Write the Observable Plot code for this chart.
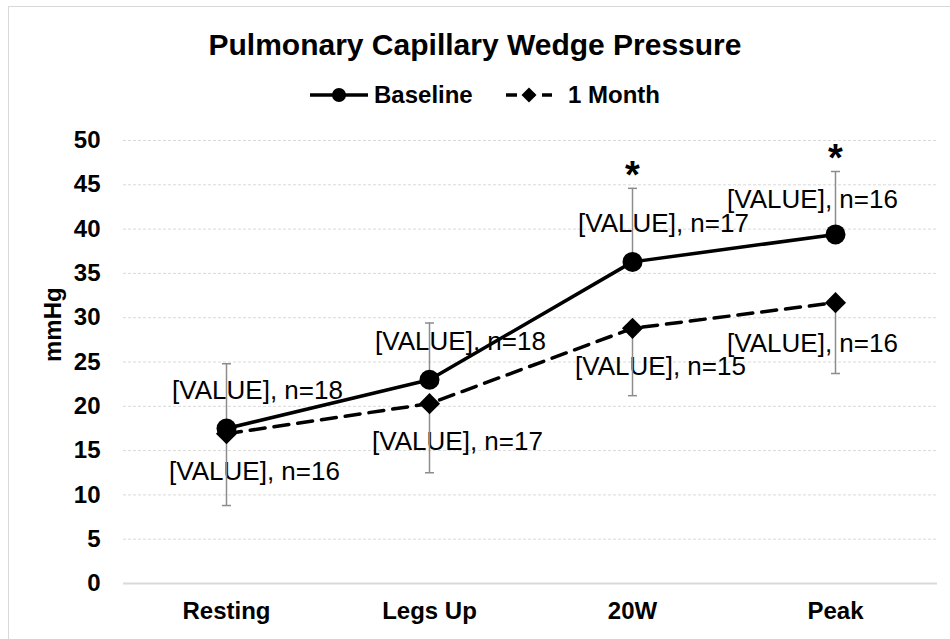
<!DOCTYPE html>
<html>
<head>
<meta charset="utf-8">
<script src="https://cdn.jsdelivr.net/npm/d3@7"></script>
<script src="https://cdn.jsdelivr.net/npm/@observablehq/plot@0.6"></script>
<style>
  html, body { margin: 0; padding: 0; background: #fff; overflow: hidden; }
  #wrap { position: relative; width: 950px; height: 639px; font-family: "Liberation Sans", Arial, sans-serif; color: #000; }
  #frame { position: absolute; left: 8px; top: 6px; width: 980px; height: 680px; border: 1.5px solid #d9d9d9; box-sizing: border-box; }
  #title { position: absolute; left: 0; width: 950px; top: 29px; text-align: center; font-size: 30px; font-weight: bold; line-height: 32px; }
  #legend { position: absolute; left: 0; top: 82px; height: 26px; width: 950px; }
  #legend .item { position: absolute; top: 0; display: flex; align-items: center; font-size: 24px; font-weight: bold; line-height: 26px; }
  #chart { position: absolute; left: 0; top: 115px; }
</style>
</head>
<body>
<div id="wrap">
  <div id="frame"></div>
  <div id="title"></div>
  <div id="legend"></div>
  <div id="chart"></div>
</div>
<script>
const title = "Pulmonary Capillary Wedge Pressure";
const yLabel = "mmHg";
const categories = ["Resting", "Legs Up", "20W", "Peak"];
const seriesNames = ["Baseline", "1 Month"];
const baseline = [17.5, 23.0, 36.3, 39.4];
const baselineUpper = [24.8, 29.4, 44.6, 46.5];
const baselineN = [18, 18, 17, 16];
const month1 = [16.9, 20.3, 28.8, 31.7];
const month1Lower = [8.8, 12.5, 21.2, 23.7];
const month1N = [16, 17, 15, 16];
const significance = ["", "", "*", "*"];
const yTicks = [0, 5, 10, 15, 20, 25, 30, 35, 40, 45, 50];

const B = categories.map((c, i) => ({cat: c, v: baseline[i], hi: baselineUpper[i], n: baselineN[i], sig: significance[i]}));
const M = categories.map((c, i) => ({cat: c, v: month1[i], lo: month1Lower[i], n: month1N[i]}));

document.getElementById("title").textContent = title;

// legend
const legend = document.getElementById("legend");
const legendSpecs = [
  {name: seriesNames[0], left: 310, dash: null, symbol: "circle"},
  {name: seriesNames[1], left: 506, dash: "11,7", symbol: "diamond"}
];
for (const s of legendSpecs) {
  const item = document.createElement("div");
  item.className = "item";
  item.style.left = s.left + "px";
  const w = s.symbol === "circle" ? 58 : 46;
  const sw = `<svg width="${w}" height="26" style="margin-right:${s.symbol === "circle" ? 6 : 16}px">` +
    (s.dash
      ? `<line x1="0" x2="${w}" y1="13" y2="13" stroke="#000" stroke-width="3.5" stroke-dasharray="${s.dash}"/>` +
        `<path d="M${w/2},5.5 L${w/2+7.5},13 L${w/2},20.5 L${w/2-7.5},13Z" fill="#000"/>`
      : `<line x1="0" x2="${w}" y1="13" y2="13" stroke="#000" stroke-width="3.5"/>` +
        `<circle cx="${w/2}" cy="13" r="7" fill="#000"/>`) +
    `</svg>`;
  item.innerHTML = sw + `<span>${s.name}</span>`;
  legend.appendChild(item);
}

const labelText = d => `[VALUE], n=${d.n}`;
const notPeak = d => d.cat !== "Peak";
const isPeak = d => d.cat === "Peak";
const capSymbol = {draw(context) { context.moveTo(-4.5, 0); context.lineTo(4.5, 0); }};

const chart = Plot.plot({
  width: 950,
  height: 524,
  marginTop: 25,
  marginBottom: 56,
  marginLeft: 123,
  marginRight: 13,
  style: {fontFamily: "'Liberation Sans', Arial, sans-serif", fontSize: "24px", fontWeight: "bold", color: "#000", background: "transparent", overflow: "visible"},
  x: {type: "point", domain: categories, padding: 0.5, label: null},
  y: {domain: [0, 50], label: null},
  marks: [
    Plot.ruleY(yTicks.filter(t => t > 0), {stroke: "#d9d9d9", strokeWidth: 1, strokeDasharray: "3,2"}),
    Plot.ruleY([0], {stroke: "#d9d9d9", strokeWidth: 2}),
    Plot.axisY({ticks: yTicks, tickSize: 0, tickPadding: 23, label: null, tickFormat: d => String(d)}),
    Plot.axisX({tickSize: 0, tickPadding: 18, label: null}),
    Plot.text([yLabel], {text: d => d, frameAnchor: "left", dx: -70, rotate: -90, fontSize: 24, fontWeight: "bold"}),
    // data labels
    Plot.text(B, {filter: notPeak, x: "cat", y: "v", text: labelText, dx: 31, dy: -38, fontSize: 26, fontWeight: "normal"}),
    Plot.text(B, {filter: isPeak, x: "cat", y: "v", text: labelText, dx: -23, dy: -35, fontSize: 26, fontWeight: "normal"}),
    Plot.text(M, {filter: notPeak, x: "cat", y: "v", text: labelText, dx: 28, dy: 38, fontSize: 26, fontWeight: "normal"}),
    Plot.text(M, {filter: isPeak, x: "cat", y: "v", text: labelText, dx: -23, dy: 41, fontSize: 26, fontWeight: "normal"}),
    // error bars
    Plot.ruleX(B, {x: "cat", y1: "v", y2: "hi", stroke: "#8c8c8c", strokeWidth: 1.5}),
    Plot.dot(B, {x: "cat", y: "hi", symbol: capSymbol, stroke: "#8c8c8c", strokeWidth: 1.5, fill: "none"}),
    Plot.ruleX(M, {x: "cat", y1: "v", y2: "lo", stroke: "#8c8c8c", strokeWidth: 1.5}),
    Plot.dot(M, {x: "cat", y: "lo", symbol: capSymbol, stroke: "#8c8c8c", strokeWidth: 1.5, fill: "none"}),
    // significance
    Plot.text(B, {filter: d => d.sig, x: "cat", y: "hi", text: "sig", dy: -13, fontSize: 38, fontWeight: "bold"}),
    // lines and markers
    Plot.line(M, {x: "cat", y: "v", stroke: "#000", strokeWidth: 3.5, strokeDasharray: "15,9"}),
    Plot.line(B, {x: "cat", y: "v", stroke: "#000", strokeWidth: 3.5}),
    Plot.dot(M, {x: "cat", y: "v", symbol: "diamond2", r: 9.5, fill: "#000", stroke: "none"}),
    Plot.dot(B, {x: "cat", y: "v", r: 10, fill: "#000", stroke: "none"})
  ]
});
document.getElementById("chart").appendChild(chart);
</script>
</body>
</html>
